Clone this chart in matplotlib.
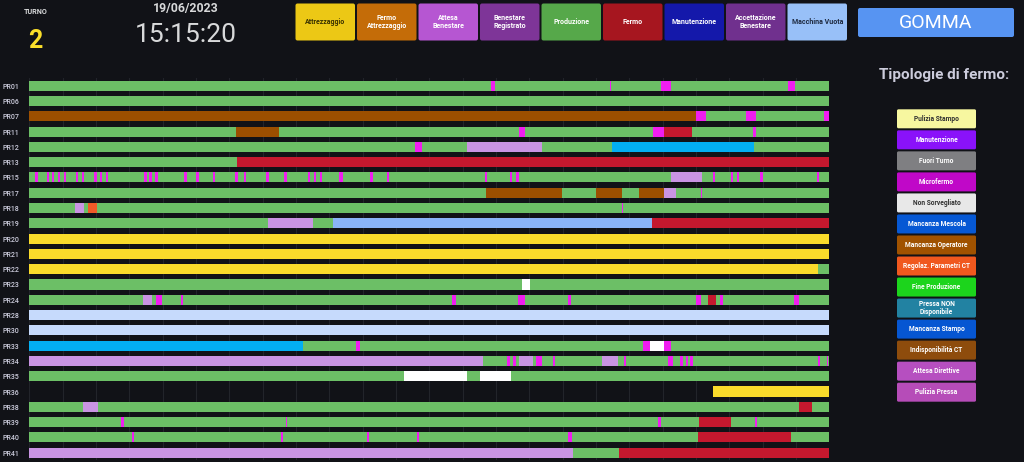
import matplotlib
matplotlib.use('Agg')
import matplotlib.pyplot as plt
from matplotlib.patches import FancyBboxPatch

plt.rcParams['font.family'] = ['Roboto', 'DejaVu Sans']

BG = '#111217'

# --- data -------------------------------------------------------------
turno = '2'
data_giorno = '19/06/2023'
ora = '15:15:20'
reparto = 'GOMMA'

machines = ['PR01', 'PR06', 'PR07', 'PR11', 'PR12', 'PR13', 'PR15', 'PR17',
            'PR18', 'PR19', 'PR20', 'PR21', 'PR22', 'PR23', 'PR24', 'PR28',
            'PR30', 'PR33', 'PR34', 'PR35', 'PR36', 'PR38', 'PR39', 'PR40',
            'PR41']
shift_len = 480  # minuti del turno

# stato -> colore barra
state_colors = {
    'P': '#6cbf66',    # produzione
    'M': '#f01ef0',    # microfermo
    'F': '#c4182e',    # fermo
    'A': '#fadb2b',    # attrezzaggio
    'MO': '#9c4f00',   # mancanza operatore
    'AB': '#c994e3',   # attesa benestare
    'MV': '#8ab4f8',   # macchina vuota
    'FT': '#c6dafc',   # fuori turno
    'MS': '#03aef2',   # mancanza stampo
    'NS': '#ffffff',   # non sorvegliato
    'RP': '#f05a28',   # regolaz. parametri
}

# (inizio, fine, stato) in minuti; i segmenti dopo coprono quelli prima
pr01 = [(0, 480, 'P'), (276.8, 279.6, 'M'), (348.4, 349.2, 'M'),
        (378.8, 384.8, 'M'), (455.4, 459.6, 'M')]
pr06 = [(0, 480, 'P')]
pr07 = [(0, 400, 'MO'), (400, 405.8, 'M'), (405.8, 430, 'P'), (430, 436, 'M'),
        (436, 476.8, 'P'), (476.8, 480, 'M')]
pr11 = [(0, 480, 'P'), (124, 150, 'MO'), (293.8, 297.6, 'M'), (374.4, 380.8, 'M'),
        (380.8, 397.6, 'F'), (434.4, 436.2, 'M')]
pr12 = [(0, 480, 'P'), (231.6, 235.6, 'M'), (262.4, 307.6, 'AB'), (349.8, 435, 'MS')]
pr13 = [(0, 124.8, 'P'), (124.8, 480, 'F')]
pr15_micro = [4.4, 11.4, 14.4, 18.0, 21.6, 28.8, 32.4, 39.8, 43.0, 46.8, 69.8,
              72.8, 76.4, 93.8, 101.0, 111.0, 124.4, 129.4, 143.0, 153.8, 167.8,
              171.4, 175.0, 205.4, 215.4, 274.0, 289.0, 293.0, 410.8, 421.8,
              425.4, 439.4, 473.4]
pr15 = ([(0, 480, 'P'), (385, 403.4, 'AB'), (185.6, 188.0, 'M')]
        + [(t - 0.7, t + 0.7, 'M') for t in pr15_micro])
pr17 = [(0, 480, 'P'), (274, 319.8, 'MO'), (339.8, 355.4, 'MO'), (365.8, 380.8, 'MO'),
        (380.8, 388, 'AB'), (403.0, 403.8, 'M')]
pr18 = [(0, 480, 'P'), (27.4, 32.8, 'AB'), (35.4, 40.4, 'RP'), (355.4, 356.2, 'M')]
pr19 = [(0, 143.4, 'P'), (143.4, 170.4, 'AB'), (170.4, 182, 'P'), (182, 373.8, 'MV'),
        (373.8, 480, 'F')]
pr20 = [(0, 480, 'A')]
pr21 = [(0, 480, 'A')]
pr22 = [(0, 473.4, 'A'), (473.4, 480, 'P')]
pr23 = [(0, 480, 'P'), (295.8, 300.4, 'NS')]
pr24 = [(0, 480, 'P'), (68.4, 73.4, 'AB'), (76.0, 79.4, 'M'), (91.0, 92.2, 'M'),
        (253.8, 256.0, 'M'), (293.4, 297.4, 'M'), (323.4, 325.0, 'M'),
        (400.0, 403.0, 'M'), (407.4, 412.0, 'F'), (414.4, 416.0, 'M'),
        (458.8, 461.8, 'M')]
pr28 = [(0, 480, 'FT')]
pr30 = [(0, 480, 'FT')]
pr33 = [(0, 164.4, 'MS'), (164.4, 480, 'P'), (196.0, 198.4, 'M'), (368.4, 372.4, 'M'),
        (372.4, 381.0, 'NS'), (381.0, 384.8, 'M')]
pr34 = [(0, 272.4, 'AB'), (272.4, 480, 'P'), (286.4, 288.4, 'M'), (290.4, 292.0, 'M'),
        (293.6, 302.4, 'AB'), (304.0, 307.8, 'M'), (314.4, 315.4, 'M'),
        (343.4, 353.0, 'AB'), (356.8, 357.8, 'M'), (383.4, 386.0, 'M'),
        (390.4, 392.0, 'M'), (394.0, 395.0, 'M'), (396.4, 398.0, 'M'),
        (473.4, 474.4, 'M'), (478.4, 479.4, 'M')]
pr35 = [(0, 480, 'P'), (225.0, 262.8, 'NS'), (270.4, 289.0, 'NS')]
pr36 = [(410.4, 480, 'A')]
pr38 = [(0, 480, 'P'), (32.0, 41.0, 'AB'), (462.0, 469.4, 'F')]
pr39 = [(0, 480, 'P'), (55.0, 57.0, 'M'), (153.8, 154.8, 'M'), (377.4, 378.8, 'M'),
        (402.0, 421.0, 'F'), (435.4, 436.8, 'M')]
pr40 = [(0, 480, 'P'), (61.4, 62.8, 'M'), (151.0, 152.2, 'M'), (202.4, 203.6, 'M'),
        (232.4, 233.6, 'M'), (323.4, 325.8, 'M'), (401.0, 456.8, 'F')]
pr41 = [(0, 326.4, 'AB'), (326.4, 353.8, 'P'), (353.8, 480, 'F')]

timelines = [pr01, pr06, pr07, pr11, pr12, pr13, pr15, pr17, pr18, pr19, pr20,
             pr21, pr22, pr23, pr24, pr28, pr30, pr33, pr34, pr35, pr36, pr38,
             pr39, pr40, pr41]

# legenda stati (in alto)
top_labels = ['Attrezzaggio', 'Fermo\nAttrezzaggio', 'Attesa\nBenestare',
              'Benestare\nRegistrato', 'Produzione', 'Fermo', 'Manutenzione',
              'Accettazione\nBenestare', 'Macchina Vuota']
top_colors = ['#ecc815', '#c46c08', '#b656d2', '#7e3598', '#56a84a', '#a6161f',
              '#1418aa', '#70308e', '#98c0f8']
top_text = ['#3a3200', 'w', 'w', 'w', 'w', 'w', 'w', 'w', '#1e2a40']

# tipologie di fermo (a destra)
stop_labels = ['Pulizia Stampo', 'Manutenzione', 'Fuori Turno', 'Microfermo',
               'Non Sorvegliato', 'Mancanza Mescola', 'Mancanza Operatore',
               'Regolaz. Parametri CT', 'Fine Produzione', 'Pressa NON\nDisponibile',
               'Mancanza Stampo', 'Indisponibilità CT', 'Attesa Direttive',
               'Pulizia Pressa']
stop_colors = ['#f7f7a0', '#8a12fa', '#7f7f82', '#c008c8', '#e8e8e8', '#0658d4',
               '#a05200', '#f0581e', '#1cd41c', '#2282a2', '#0656d2', '#8e4c0c',
               '#b64fc0', '#b64cb8']
stop_text = ['#333', 'w', 'w', 'w', '#333', 'w', 'w', 'w', 'w', 'w', 'w', 'w',
             'w', 'w']

# --- figure -------------------------------------------------------------
W, H = 1024, 462
fig = plt.figure(figsize=(W / 100, H / 100), dpi=100, facecolor=BG)

# overlay in pixel per la parte "dashboard"
bg = fig.add_axes([0, 0, 1, 1])
bg.set_xlim(0, W)
bg.set_ylim(H, 0)
bg.axis('off')
bg.set_facecolor(BG)

bg.text(35.8, 11.7, 'TURNO', color='#d8d9da', fontsize=5.2, fontweight='bold',
        ha='center', va='center')
bg.text(35.5, 41, turno, color='#fade2a', fontsize=18, fontweight='bold',
        ha='center', va='center')
bg.text(185.5, 8.5, data_giorno, color='#d8d9da', fontsize=8.8, fontweight='bold',
        ha='center', va='center')
bg.text(185.5, 35.5, ora, color='#d8d9da', fontsize=19, ha='center', va='center')

for i, (lab, col, tc) in enumerate(zip(top_labels, top_colors, top_text)):
    x0 = 295.5 + i * 61.5
    bg.add_patch(FancyBboxPatch((x0, 3.5), 59.5, 37,
                                boxstyle='round,pad=0,rounding_size=2',
                                fc=col, ec='none'))
    bg.text(x0 + 29.75, 22, lab, color=tc, fontsize=5, fontweight='bold',
            ha='center', va='center', linespacing=1.1)

bg.add_patch(FancyBboxPatch((858, 8), 156, 29, boxstyle='round,pad=0,rounding_size=2',
                            fc='#5794f2', ec='none'))
bg.text(936, 22.5, reparto, color='white', fontsize=14, ha='center', va='center')

bg.text(944, 74.5, 'Tipologie di fermo:', color='#ccccdc', fontsize=11,
        fontweight='bold', ha='center', va='center')
for i, (lab, col, tc) in enumerate(zip(stop_labels, stop_colors, stop_text)):
    y0 = 109.3 + i * 21.03
    bg.add_patch(FancyBboxPatch((897, y0), 79, 19,
                                boxstyle='round,pad=0,rounding_size=1.5',
                                fc=col, ec='none'))
    bg.text(936.5, y0 + 9.5, lab, color=tc, fontsize=4.8, fontweight='bold',
            ha='center', va='center', linespacing=1.05)

# --- timeline -------------------------------------------------------------
ax = fig.add_axes([29.3 / W, 1 - 460.35 / H, 800 / W, (460.35 - 78.05) / H])
ax.set_facecolor('none')
for row, segs in enumerate(timelines):
    for start, end, st in segs:
        ax.barh(row, end - start, left=start, height=0.66,
                color=state_colors[st], linewidth=0)

ax.set_xlim(0, shift_len)
ax.set_ylim(len(machines) - 0.5, -0.5)
ax.set_xticks(range(0, shift_len + 1, 20))
ax.set_xticklabels([])
ax.set_yticks(range(len(machines)))
ax.set_yticklabels(machines, fontsize=5, color='#ccccdc', fontweight='medium')
ax.tick_params(axis='both', length=0)
ax.tick_params(axis='y', pad=7)
ax.grid(axis='x', color='#22242a', linewidth=0.8)
ax.set_axisbelow(True)
for s in ax.spines.values():
    s.set_visible(False)

fig.savefig('out.png', dpi=100, facecolor=BG)
